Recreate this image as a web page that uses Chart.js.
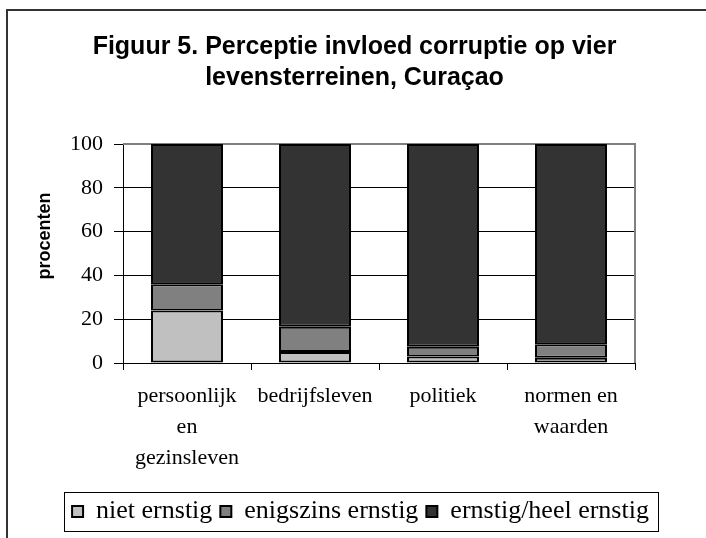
<!DOCTYPE html>
<html>
<head>
<meta charset="utf-8">
<script src="https://cdn.jsdelivr.net/npm/chart.js@4/dist/chart.umd.min.js"></script>
<style>
  html, body { margin: 0; padding: 0; background: #fff; }
  #chart { display: block; }
</style>
</head>
<body>
<canvas id="chart" width="706" height="538"></canvas>
<script>
const categories = [
  ["persoonlijk", "en", "gezinsleven"],
  "bedrijfsleven",
  "politiek",
  ["normen en", "waarden"],
];
const nietErnstig = [24, 5, 3, 2.4];
const enigszinsErnstig = [12, 11.5, 4.4, 6.2];
const ernstigHeelErnstig = [64, 83.5, 92.6, 91.4];
const yTicks = [0, 20, 40, 60, 80, 100];

const serif = "'Liberation Serif', 'Times New Roman', serif";
const sans = "'Liberation Sans', Arial, sans-serif";

// outer frame, gray plot border and the box round the legend
const framePlugin = {
  id: "frame",
  afterLayout(chart) {
    // excel centres title and legend on the whole chart, not the plot
    chart.titleBlock.left += 37;
    chart.titleBlock.right += 37;
    chart.legend.left += 43;
    chart.legend.right += 43;
  },
  beforeDatasetsDraw(chart) {
    const { ctx, chartArea } = chart;
    ctx.save();
    ctx.strokeStyle = "#808080";
    ctx.lineWidth = 2;
    ctx.beginPath();
    ctx.moveTo(chartArea.left, chartArea.top);
    ctx.lineTo(chartArea.right, chartArea.top);
    ctx.lineTo(chartArea.right, chartArea.bottom);
    ctx.stroke();
    ctx.restore();
  },
  afterDraw(chart) {
    const { ctx } = chart;
    ctx.save();
    ctx.strokeStyle = "#333";
    ctx.lineWidth = 2;
    ctx.strokeRect(7, 10, 720, 560);

    const boxes = chart.legend.legendHitBoxes;
    if (boxes && boxes.length) {
      const first = boxes[0];
      const last = boxes[boxes.length - 1];
      ctx.strokeStyle = "#000";
      ctx.lineWidth = 1;
      const l = Math.round(first.left - 8) + 0.5;
      const r = Math.round(last.left + last.width + 9) + 0.5;
      const t = Math.round(first.top + first.height / 2 - 19.5) + 0.5;
      ctx.strokeRect(l, t, r - l, 39);
    }
    ctx.restore();
  },
};

new Chart(document.getElementById("chart"), {
  type: "bar",
  data: {
    labels: categories,
    datasets: [
      {
        label: "niet ernstig",
        data: nietErnstig,
        backgroundColor: "#c0c0c0",
      },
      {
        label: "enigszins ernstig",
        data: enigszinsErnstig,
        backgroundColor: "#808080",
      },
      {
        label: "ernstig/heel ernstig",
        data: ernstigHeelErnstig,
        backgroundColor: "#333333",
      },
    ].map((ds) => ({
      ...ds,
      borderColor: "#000",
      borderWidth: 2,
      borderSkipped: false,
      barPercentage: 0.5625,
      categoryPercentage: 1,
    })),
  },
  options: {
    responsive: false,
    animation: false,
    devicePixelRatio: 1,
    layout: { padding: { left: 0, right: 71, top: 0, bottom: 3.5 } },
    plugins: {
      title: {
        display: true,
        text: ["Figuur 5. Perceptie invloed corruptie op vier", "levensterreinen, Curaçao"],
        color: "#000",
        font: { family: sans, size: 25, weight: "bold", lineHeight: 1.24 },
        padding: { top: 31.5, bottom: 50.5 },
      },
      legend: {
        position: "bottom",
        labels: {
          color: "#000",
          font: { family: serif, size: 26 },
          boxWidth: 11,
          boxHeight: 11,
          padding: 8,
        },
      },
      tooltip: { enabled: false },
    },
    scales: {
      x: {
        stacked: true,
        afterFit: (s) => { s.height = 127.5; },
        grid: {
          offset: true,
          drawOnChartArea: false,
          color: "#000",
          tickLength: 7,
        },
        border: { color: "#000", width: 1 },
        ticks: {
          color: "#000",
          font: { family: serif, size: 22, lineHeight: 1.41 },
          padding: 11,
          maxRotation: 0,
          autoSkip: false,
        },
      },
      y: {
        stacked: true,
        min: yTicks[0],
        max: yTicks[yTicks.length - 1],
        afterFit: (s) => { s.width = 123; },
        afterBuildTicks: (s) => { s.ticks = yTicks.map((v) => ({ value: v })); },
        grid: {
          color: (c) => (c.tick && c.tick.value === 100 ? "rgba(0,0,0,0)" : "#000"),
          tickColor: "#000",
          tickLength: 9,
        },
        border: { color: "#000", width: 1 },
        ticks: {
          color: "#000",
          font: { family: serif, size: 22 },
          padding: 11,
        },
        title: {
          display: true,
          text: "\u00a0\u00a0\u00a0\u00a0\u00a0\u00a0\u00a0procenten",
          color: "#000",
          font: { family: sans, size: 18, weight: "bold", lineHeight: 1.2 },
          padding: { top: 34, bottom: 0 },
        },
      },
    },
  },
  plugins: [framePlugin],
});
</script>
</body>
</html>
